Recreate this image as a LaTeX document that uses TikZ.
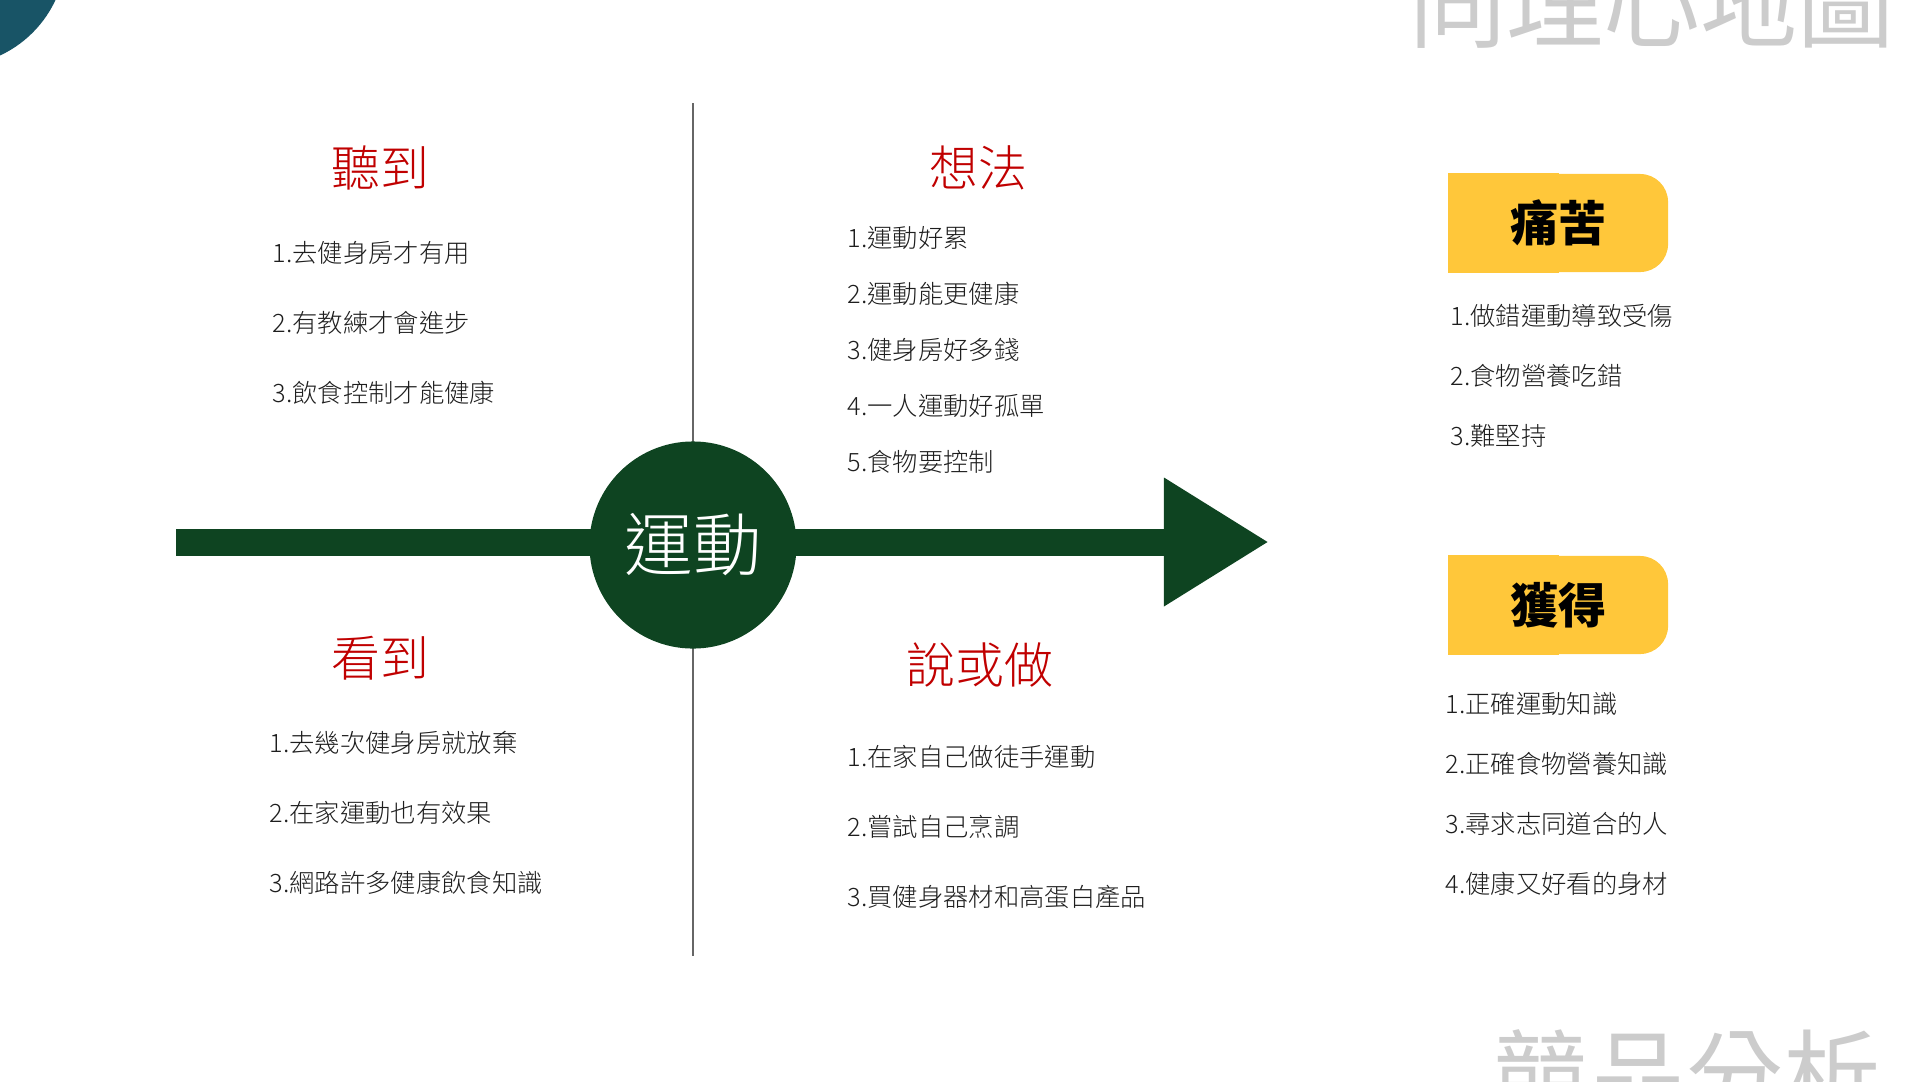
\documentclass[tikz,border=0pt]{standalone}
\usepackage{fontspec}
\IfFontExistsTF{Noto Sans CJK TC Light}
  {\setmainfont{Noto Sans CJK TC Light}}
  {\IfFontExistsTF{Noto Sans CJK TC DemiLight}
    {\setmainfont{Noto Sans CJK TC DemiLight}}
    {\setmainfont{Noto Sans CJK TC}}}
\newfontfamily\strongfont{Noto Sans CJK TC}
\usetikzlibrary{arrows.meta,positioning,backgrounds}
\definecolor{forest}{RGB}{14,68,33}
\definecolor{petrol}{RGB}{24,84,102}
\definecolor{crimson}{RGB}{192,0,0}
\definecolor{ink}{RGB}{30,30,30}
\definecolor{mist}{RGB}{204,204,204}
\definecolor{amber}{RGB}{255,199,58}
\tikzset{
  axis/.style={draw=gray!80!black,line width=0.15mm},
  shaft/.style={draw=forest,line width=2.7mm,-{Triangle[length=10.5mm,width=12.1mm]}},
  hub/.style={circle,fill=forest,text=white,minimum size=2.07cm,inner sep=0,
              font=\fontsize{19.5pt}{21pt}\selectfont},
  heading/.style={text=crimson,inner sep=0,font=\fontsize{13.9pt}{15pt}\selectfont},
  item/.style={text=ink,inner sep=0,anchor=west,font=\fontsize{7.2pt}{8pt}\selectfont},
  tag/.style={fill=amber,rounded corners=2.8mm,minimum width=2.19cm,minimum height=0.98cm,
              inner sep=0,font=\fontsize{13.7pt}{15pt}\strongfont\bfseries},
  ghost/.style={text=mist,inner sep=0,font=\fontsize{27.6pt}{30pt}\strongfont}
}

\begin{document}
\begin{tikzpicture}[x=0.01cm,y=-0.01cm]
  \useasboundingbox (0,0) rectangle (1920,1081);
  \fill[petrol] (-48,-48) circle[radius=1.14cm];
  \node[ghost,anchor=base west] (maptitle) at (1409,40) {同理心地圖};
  \node[ghost,anchor=base west] (rival) at (1492,1111) {競品分析};
  % axes
  \coordinate (top) at (693,103); \coordinate (bottom) at (693,956);
  \coordinate (tail) at (176,542); \coordinate (tip) at (1269,542);
  \draw[axis] (top)--(bottom);
  \draw[shaft] (tail)--(tip);
  \node[hub] (core) at (693,545) {運動};
  % heard
  \node[heading] (heard) at (380,168) {聽到};
  \node[item] (h1) at (272,253) {1.去健身房才有用};
  \node[item,below=7mm of h1.west,anchor=west] (h2) {2.有教練才會進步};
  \node[item,below=7mm of h2.west,anchor=west] (h3) {3.飲食控制才能健康};
  % thought
  \node[heading] (thought) at (978,168) {想法};
  \node[item] (t1) at (847,238) {1.運動好累};
  \node[item,below=5.6mm of t1.west,anchor=west] (t2) {2.運動能更健康};
  \node[item,below=5.6mm of t2.west,anchor=west] (t3) {3.健身房好多錢};
  \node[item,below=5.6mm of t3.west,anchor=west] (t4) {4.一人運動好孤單};
  \node[item,below=5.6mm of t4.west,anchor=west] (t5) {5.食物要控制};
  % seen
  \node[heading] (seen) at (380,658) {看到};
  \node[item] (s1) at (269,743) {1.去幾次健身房就放棄};
  \node[item,below=7mm of s1.west,anchor=west] (s2) {2.在家運動也有效果};
  \node[item,below=7mm of s2.west,anchor=west] (s3) {3.網路許多健康飲食知識};
  % said or done
  \node[heading] (done) at (980,665) {說或做};
  \node[item] (d1) at (847,757) {1.在家自己做徒手運動};
  \node[item,below=7mm of d1.west,anchor=west] (d2) {2.嘗試自己烹調};
  \node[item,below=7mm of d2.west,anchor=west] (d3) {3.買健身器材和高蛋白產品};
  % pain and gain
  \node[tag] (pain) at (1558.5,223) {痛苦};
  \node[item] (p1) at (1450,316) {1.做錯運動導致受傷};
  \node[item,below=6mm of p1.west,anchor=west] (p2) {2.食物營養吃錯};
  \node[item,below=6mm of p2.west,anchor=west] (p3) {3.難堅持};
  \node[tag] (gain) at (1558.5,605) {獲得};
  \node[item] (g1) at (1445,704) {1.正確運動知識};
  \node[item,below=6mm of g1.west,anchor=west] (g2) {2.正確食物營養知識};
  \node[item,below=6mm of g2.west,anchor=west] (g3) {3.尋求志同道合的人};
  \node[item,below=6mm of g3.west,anchor=west] (g4) {4.健康又好看的身材};
  \begin{scope}[on background layer]
    \fill[amber] (pain.north west) rectangle (pain.south);
    \fill[amber] (gain.north west) rectangle (gain.south);
  \end{scope}
\end{tikzpicture}
\end{document}
